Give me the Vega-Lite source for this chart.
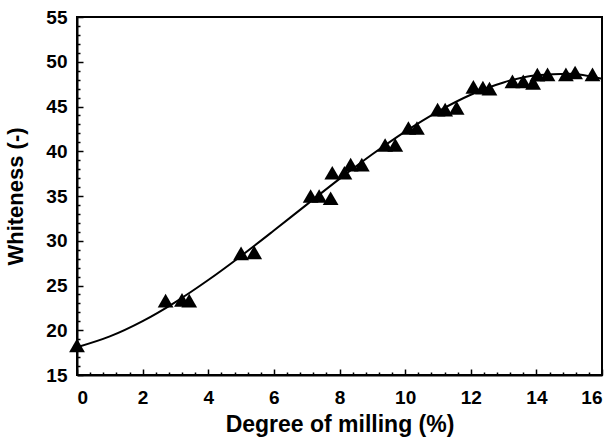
{
  "$schema": "https://vega.github.io/schema/vega-lite/v6.json",
  "width": 525,
  "height": 358,
  "autosize": {"type": "none"},
  "padding": {"left": 77, "top": 17, "right": 11, "bottom": 67},
  "config": {
    "view": {"stroke": "black", "strokeWidth": 2},
    "font": "Liberation Sans",
    "axis": {"grid": false, "domainColor": "black", "domainWidth": 2, "tickColor": "black", "labelColor": "black", "titleColor": "black", "labelFont": "Liberation Sans", "titleFont": "Liberation Sans", "labelFontWeight": "bold", "titleFontWeight": "bold", "labelFontSize": 19}
  },
  "datasets": {
    "curve": [
      {"x": 0, "y": 18.1}, {"x": 1, "y": 19.31}, {"x": 2, "y": 21.02}, {"x": 3, "y": 23.15},
      {"x": 4, "y": 25.61}, {"x": 5, "y": 28.3}, {"x": 6, "y": 31.14}, {"x": 7, "y": 34.04},
      {"x": 8, "y": 36.91}, {"x": 9, "y": 39.66}, {"x": 10, "y": 42.2}, {"x": 11, "y": 44.44},
      {"x": 12, "y": 46.31}, {"x": 13, "y": 47.69}, {"x": 14, "y": 48.5}, {"x": 15, "y": 48.67},
      {"x": 16, "y": 48.1}
    ],
    "points": [
      {"x": 0, "y": 18.3}, {"x": 2.7, "y": 23.3}, {"x": 3.2, "y": 23.4}, {"x": 3.42, "y": 23.3},
      {"x": 5.0, "y": 28.6}, {"x": 5.4, "y": 28.7}, {"x": 7.12, "y": 35.0}, {"x": 7.38, "y": 35.0},
      {"x": 7.73, "y": 34.75}, {"x": 7.78, "y": 37.6}, {"x": 8.15, "y": 37.6}, {"x": 8.34, "y": 38.5},
      {"x": 8.68, "y": 38.5}, {"x": 9.39, "y": 40.7}, {"x": 9.7, "y": 40.7}, {"x": 10.1, "y": 42.6},
      {"x": 10.36, "y": 42.6}, {"x": 10.99, "y": 44.65}, {"x": 11.22, "y": 44.65}, {"x": 11.57, "y": 44.85},
      {"x": 12.08, "y": 47.2}, {"x": 12.37, "y": 47.1}, {"x": 12.57, "y": 47.0}, {"x": 13.27, "y": 47.8},
      {"x": 13.6, "y": 47.8}, {"x": 13.9, "y": 47.65}, {"x": 14.03, "y": 48.57}, {"x": 14.34, "y": 48.6},
      {"x": 14.9, "y": 48.6}, {"x": 15.18, "y": 48.8}, {"x": 15.71, "y": 48.6}
    ]
  },
  "layer": [
    {
      "data": {"name": "curve"},
      "mark": {"type": "line", "color": "black", "strokeWidth": 2, "interpolate": "monotone"},
      "encoding": {
        "x": {"field": "x", "type": "quantitative", "scale": {"domain": [0, 16], "nice": false},
          "axis": {"orient": "bottom", "title": "Degree of milling (%)", "titleFontSize": 23, "values": [0, 2, 4, 6, 8, 10, 12, 14, 16], "tickSize": -6, "tickWidth": 1.5, "labelPadding": 19, "titlePadding": 6}},
        "y": {"field": "y", "type": "quantitative", "scale": {"domain": [15, 55], "nice": false},
          "axis": {"orient": "left", "title": "Whiteness (-)", "titleFontSize": 22, "values": [15, 20, 25, 30, 35, 40, 45, 50, 55], "tickSize": -6, "tickWidth": 1.5, "labelPadding": 16, "titlePadding": 18}}
      }
    },
    {
      "data": {"name": "points"},
      "mark": {"type": "point", "shape": "triangle-up", "filled": true, "color": "black", "opacity": 1, "size": 250},
      "encoding": {
        "x": {"field": "x", "type": "quantitative", "scale": {"domain": [0, 16], "nice": false},
          "axis": {"orient": "bottom", "title": null, "labels": false, "domain": false, "values": [0.4, 0.8, 1.2, 1.6, 2.4, 2.8, 3.2, 3.6, 4.4, 4.8, 5.2, 5.6, 6.4, 6.8, 7.2, 7.6, 8.4, 8.8, 9.2, 9.6, 10.4, 10.8, 11.2, 11.6, 12.4, 12.8, 13.2, 13.6, 14.4, 14.8, 15.2, 15.6], "tickSize": -3, "tickWidth": 1.5}},
        "y": {"field": "y", "type": "quantitative", "scale": {"domain": [15, 55], "nice": false},
          "axis": {"orient": "left", "title": null, "labels": false, "domain": false, "values": [16, 17, 18, 19, 21, 22, 23, 24, 26, 27, 28, 29, 31, 32, 33, 34, 36, 37, 38, 39, 41, 42, 43, 44, 46, 47, 48, 49, 51, 52, 53, 54], "tickSize": -3, "tickWidth": 1.5}}
      }
    }
  ],
  "resolve": {"axis": {"x": "independent", "y": "independent"}}
}
